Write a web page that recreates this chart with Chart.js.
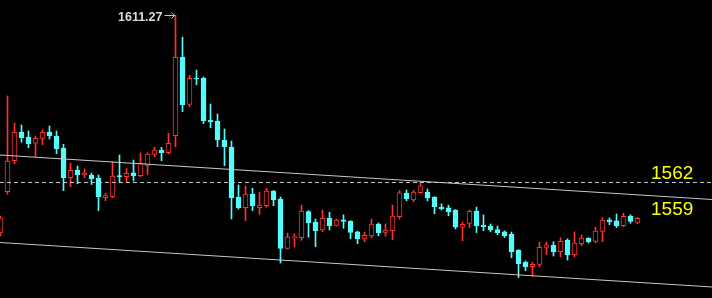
<!DOCTYPE html>
<html>
<head>
<meta charset="utf-8">
<script src="https://cdn.jsdelivr.net/npm/chart.js@4.4.1/dist/chart.umd.min.js"></script>
<style>
  html, body { margin: 0; padding: 0; background: #000; }
  #wrap { width: 712px; height: 298px; }
</style>
</head>
<body>
<div id="wrap"><canvas id="kChart" width="712" height="298"></canvas></div>
<script>
// candles, oldest first
const opens = [
  1547.13, 1559.28, 1568.41, 1576.85, 1575.38, 1573.53, 1575.00, 1576.85, 1575.68, 1572.14,
  1563.40, 1565.67, 1564.20, 1564.20, 1563.31, 1557.52, 1557.81, 1564.05, 1563.70, 1564.87,
  1563.99, 1567.05, 1570.29, 1571.55, 1570.76, 1575.76, 1598.84, 1584.95, 1592.74, 1592.66,
  1580.38, 1580.09, 1574.50, 1572.35, 1557.72, 1554.57, 1558.61, 1554.57, 1555.16, 1559.49,
  1557.13, 1542.57, 1545.72, 1545.74, 1553.40, 1550.31, 1548.07, 1551.46, 1549.39, 1551.01,
  1550.60, 1547.48, 1545.36, 1546.30, 1549.78, 1547.28, 1547.80, 1551.93, 1558.90, 1556.84,
  1558.99, 1559.19, 1557.72, 1554.78, 1554.57, 1553.90, 1548.81, 1549.98, 1553.60, 1549.48,
  1549.19, 1548.10, 1547.48, 1546.83, 1542.07, 1538.51, 1537.21, 1537.86, 1542.86, 1543.51,
  1541.62, 1545.07, 1540.74, 1543.98, 1545.57, 1544.63, 1547.63, 1551.01, 1550.72, 1549.25,
  1552.13, 1550.22
];
const highs = [
  1552.13, 1587.45, 1579.50, 1578.91, 1577.15, 1575.68, 1577.44, 1578.62, 1577.15, 1573.23,
  1567.73, 1566.85, 1565.96, 1564.79, 1564.20, 1558.81, 1568.11, 1570.08, 1566.11, 1568.61,
  1570.67, 1570.76, 1572.35, 1572.35, 1576.47, 1611.27, 1604.75, 1593.57, 1595.10, 1593.04,
  1585.09, 1582.15, 1577.74, 1574.20, 1561.25, 1560.96, 1560.28, 1559.19, 1560.28, 1559.64,
  1557.72, 1547.07, 1546.89, 1555.31, 1553.75, 1551.25, 1553.90, 1553.25, 1551.25, 1552.48,
  1550.75, 1547.63, 1547.36, 1551.25, 1550.07, 1549.78, 1555.37, 1559.58, 1559.78, 1559.64,
  1561.90, 1560.08, 1557.81, 1555.72, 1555.31, 1554.04, 1550.28, 1553.90, 1554.72, 1552.43,
  1549.78, 1549.19, 1547.78, 1547.42, 1542.21, 1538.89, 1538.51, 1544.42, 1544.39, 1544.54,
  1545.72, 1545.42, 1547.48, 1546.54, 1545.74, 1548.81, 1551.69, 1551.60, 1552.72, 1552.93,
  1552.48, 1551.69
];
const lows = [
  1546.25, 1558.52, 1567.52, 1573.82, 1572.23, 1569.58, 1573.12, 1574.79, 1570.47, 1559.58,
  1560.75, 1561.64, 1563.40, 1561.40, 1553.69, 1556.63, 1557.52, 1561.99, 1561.99, 1562.43,
  1563.70, 1564.34, 1569.58, 1568.41, 1570.38, 1572.53, 1582.83, 1584.30, 1590.74, 1579.35,
  1578.12, 1572.53, 1566.93, 1551.25, 1554.19, 1550.75, 1553.69, 1552.63, 1554.69, 1555.16,
  1538.30, 1542.42, 1543.10, 1544.98, 1545.89, 1543.10, 1547.51, 1548.01, 1549.19, 1548.51,
  1545.45, 1543.98, 1544.57, 1545.66, 1546.30, 1546.19, 1545.13, 1551.25, 1556.60, 1556.34,
  1558.81, 1556.60, 1552.78, 1553.90, 1552.19, 1548.31, 1544.86, 1548.69, 1547.22, 1547.80,
  1547.48, 1546.60, 1545.80, 1539.86, 1534.03, 1536.03, 1534.41, 1537.12, 1540.80, 1540.36,
  1540.12, 1539.18, 1540.15, 1543.36, 1544.19, 1544.27, 1544.57, 1549.57, 1548.69, 1548.98,
  1549.98, 1549.84
];
const closes = [
  1551.54, 1568.32, 1576.76, 1575.17, 1573.41, 1575.00, 1576.76, 1575.76, 1571.94, 1563.40,
  1565.58, 1564.29, 1564.79, 1563.11, 1557.81, 1558.11, 1563.90, 1563.61, 1564.70, 1563.90,
  1567.64, 1570.32, 1571.55, 1570.76, 1573.53, 1598.84, 1584.80, 1592.66, 1592.45, 1580.18,
  1579.80, 1574.50, 1572.53, 1557.52, 1554.57, 1558.61, 1555.16, 1555.37, 1559.49, 1556.84,
  1542.57, 1545.95, 1546.10, 1553.60, 1550.16, 1547.80, 1551.46, 1549.25, 1550.90, 1550.57,
  1547.28, 1545.42, 1546.48, 1549.78, 1547.22, 1548.01, 1552.13, 1558.96, 1557.13, 1559.19,
  1561.02, 1557.43, 1554.87, 1554.19, 1553.31, 1548.81, 1549.69, 1553.54, 1549.28, 1548.89,
  1548.01, 1547.13, 1546.25, 1541.62, 1538.09, 1537.18, 1537.92, 1542.92, 1543.66, 1541.59,
  1544.71, 1540.71, 1544.19, 1545.60, 1544.57, 1547.72, 1550.90, 1550.45, 1549.25, 1552.07,
  1550.51, 1551.46
];

// drawn lines: channel ends (left edge, right edge) and the level line
const upperTrend = [1570.08, 1556.99];
const lowerTrend = [1544.33, 1531.24];
const levelLine = 1562;
const levelLabels = ['1562', '1559'];
const peakLabel = '1611.27';

const UP = '#ff3232';
const DOWN = '#54fcfc';
const X_MIN = -0.5 / 7;
const X_MAX = X_MIN + 712 / 7;

const idx = opens.map((_, i) => i);
const isUp = i => closes[i] >= opens[i];

const labelPlugin = {
  id: 'labels',
  afterDatasetsDraw(chart) {
    const { ctx, scales: { x, y } } = chart;
    ctx.save();
    // yellow price tags on the right
    ctx.fillStyle = '#ffff00';
    ctx.font = "19px 'Liberation Sans', Arial, sans-serif";
    ctx.textBaseline = 'alphabetic';
    ctx.fillText(levelLabels[0], 651, y.getPixelForValue(levelLine) - 3);
    const trendRight = y.getPixelForValue(upperTrend[0] + (upperTrend[1] - upperTrend[0]) * (651 / 712));
    ctx.fillText(levelLabels[1], 651, trendRight + 19);

    // peak marker
    const hi = highs.indexOf(Math.max(...highs));
    const px = x.getPixelForValue(hi);
    const py = Math.round(y.getPixelForValue(highs[hi])) + 0.5;
    ctx.font = "bold 12.5px 'Liberation Sans', Arial, sans-serif";
    ctx.fillStyle = '#dcdcdc';
    ctx.textAlign = 'right';
    ctx.fillText(peakLabel, px - 13, py + 5);
    ctx.strokeStyle = '#c8c8c8';
    ctx.lineWidth = 1;
    ctx.beginPath();
    ctx.moveTo(px - 11, py);
    ctx.lineTo(px - 1, py);
    ctx.moveTo(px - 4, py - 3);
    ctx.lineTo(px - 1, py);
    ctx.lineTo(px - 4, py + 3);
    ctx.stroke();
    ctx.restore();
  }
};

new Chart(document.getElementById('kChart'), {
  type: 'bar',
  data: {
    datasets: [
      {
        type: 'line',
        data: [{ x: X_MIN, y: upperTrend[0] }, { x: X_MAX, y: upperTrend[1] }],
        borderColor: '#c8c8c8',
        borderWidth: 1,
        pointRadius: 0,
        order: 0
      },
      {
        type: 'line',
        data: [{ x: X_MIN, y: lowerTrend[0] }, { x: X_MAX, y: lowerTrend[1] }],
        borderColor: '#c8c8c8',
        borderWidth: 1,
        pointRadius: 0,
        order: 0
      },
      {
        type: 'line',
        data: [{ x: X_MIN, y: levelLine }, { x: X_MAX, y: levelLine }],
        borderColor: '#c8c8c8',
        borderWidth: 1,
        borderDash: [4, 3],
        pointRadius: 0,
        order: 0
      },
      {
        // bodies
        data: idx.map(i => ({ x: i, y: [opens[i], closes[i]] })),
        backgroundColor: c => isUp(c.dataIndex) ? '#000' : DOWN,
        borderColor: c => isUp(c.dataIndex) ? UP : DOWN,
        borderWidth: 1,
        borderSkipped: false,
        barThickness: 5,
        grouped: false,
        order: 1
      },
      {
        // wicks
        data: idx.map(i => ({ x: i, y: [lows[i], highs[i]] })),
        backgroundColor: c => isUp(c.dataIndex) ? UP : DOWN,
        borderWidth: 0,
        barThickness: 1,
        grouped: false,
        order: 2
      }
    ]
  },
  options: {
    responsive: false,
    animation: false,
    layout: { padding: 0 },
    plugins: { legend: { display: false }, tooltip: { enabled: false } },
    scales: {
      x: { type: 'linear', min: X_MIN, max: X_MAX, offset: false, display: false },
      y: { min: 1528, max: 1615.7, display: false }
    }
  },
  plugins: [labelPlugin]
});
</script>
</body>
</html>
